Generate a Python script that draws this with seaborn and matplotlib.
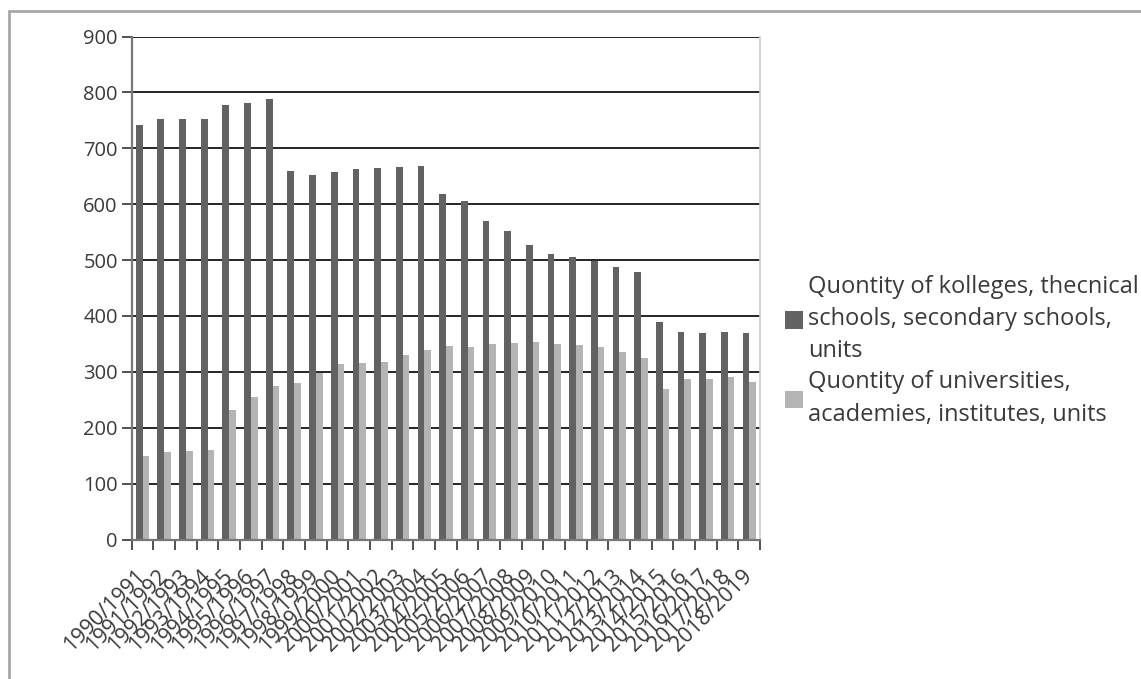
import numpy as np
import pandas as pd
import matplotlib
matplotlib.use("Agg")
import matplotlib.pyplot as plt
from matplotlib.lines import Line2D
import seaborn as sns

years = [
    "1990/1991", "1991/1992", "1992/1993", "1993/1994", "1994/1995",
    "1995/1996", "1996/1997", "1997/1998", "1998/1999", "1999/2000",
    "2000/2001", "2001/2002", "2002/2003", "2003/2004", "2004/2005",
    "2005/2006", "2006/2007", "2007/2008", "2008/2009", "2009/2010",
    "2010/2011", "2011/2012", "2012/2013", "2013/2014", "2014/2015",
    "2015/2016", "2016/2017", "2017/2018", "2018/2019",
]
colleges = [
    742, 753, 752, 753, 778, 781, 789, 660, 652, 657,
    663, 664, 667, 669, 618, 605, 570, 552, 527, 511,
    505, 499, 488, 478, 389, 371, 370, 371, 370,
]
universities = [
    150, 156, 158, 160, 232, 255, 274, 280, 298, 314,
    315, 318, 331, 339, 347, 344, 350, 351, 353, 350,
    348, 345, 336, 324, 270, 288, 287, 290, 282,
]
series_names = [
    "Quontity of kolleges, thecnical\nschools, secondary schools,\nunits",
    "Quontity of universities,\nacademies, institutes, units",
]
colors = ["#626262", "#b4b4b4"]
y_ticks = [0, 100, 200, 300, 400, 500, 600, 700, 800, 900]

df = pd.DataFrame({
    "year": years * 2,
    "value": colleges + universities,
    "series": [series_names[0]] * len(years) + [series_names[1]] * len(years),
})

sns.set_theme(style="white")
plt.rcParams["font.family"] = ["Open Sans", "DejaVu Sans"]
text_color = "#3a3a3a"

fig = plt.figure(figsize=(11.41, 6.79), dpi=100)
ax = fig.add_axes([0.1154, 0.2054, 0.5508, 0.7408])

sns.barplot(data=df, x="year", y="value", hue="series", order=years,
            hue_order=series_names, palette=colors, saturation=1,
            width=0.62, linewidth=0, ax=ax, legend=True)

ax.set_xlim(-0.5, len(years) - 0.5)
ax.set_ylim(0, 900)
ax.set_yticks(y_ticks)
ax.set_yticklabels([str(t) for t in y_ticks])
ax.set_xlabel("")
ax.set_ylabel("")

# horizontal gridlines
ax.yaxis.grid(True, color="black", linewidth=1.2)
ax.xaxis.grid(False)
ax.set_axisbelow(True)

for side in ("left", "bottom"):
    ax.spines[side].set_visible(True)
    ax.spines[side].set_color("#777777")
    ax.spines[side].set_linewidth(1.6)
ax.spines["right"].set_visible(True)
ax.spines["right"].set_color("#cccccc")
ax.spines["right"].set_linewidth(1.2)
ax.spines["top"].set_visible(False)

# category labels centred, tick marks on category boundaries
ax.set_xticks(np.arange(len(years)))
ax.set_xticklabels(years, rotation=45, ha="right", va="center",
                   rotation_mode="anchor")
ax.set_xticks(np.arange(-0.5, len(years), 1), minor=True)
ax.tick_params(axis="x", which="major", length=0, pad=24,
               labelsize=15.5, labelcolor=text_color)
ax.tick_params(axis="x", which="minor", bottom=True, length=7,
               width=1.2, color="#333333", direction="out")
ax.tick_params(axis="y", left=True, length=7, width=1.2, color="#333333",
               direction="out", pad=3, labelsize=14.5, labelcolor=text_color)
for lbl in ax.get_xticklabels():
    lbl.set_x(lbl.get_position()[0])

leg = ax.legend(loc="center left", bbox_to_anchor=(1.025, 0.375),
                frameon=False, fontsize=17, handlelength=0.75,
                handleheight=0.75, handletextpad=0.2, labelspacing=0.3,
                borderaxespad=0)
for t in leg.get_texts():
    t.set_color(text_color)
    t.set_linespacing(1.45)

# outer frame along the top and left edges
fig.add_artist(Line2D([0.008, 0.008], [0.0, 0.984], transform=fig.transFigure,
                      color="#a8a8a8", linewidth=2))
fig.add_artist(Line2D([0.008, 1.0], [0.984, 0.984], transform=fig.transFigure,
                      color="#a8a8a8", linewidth=2))

fig.savefig("out.png", dpi=100, facecolor="white")
